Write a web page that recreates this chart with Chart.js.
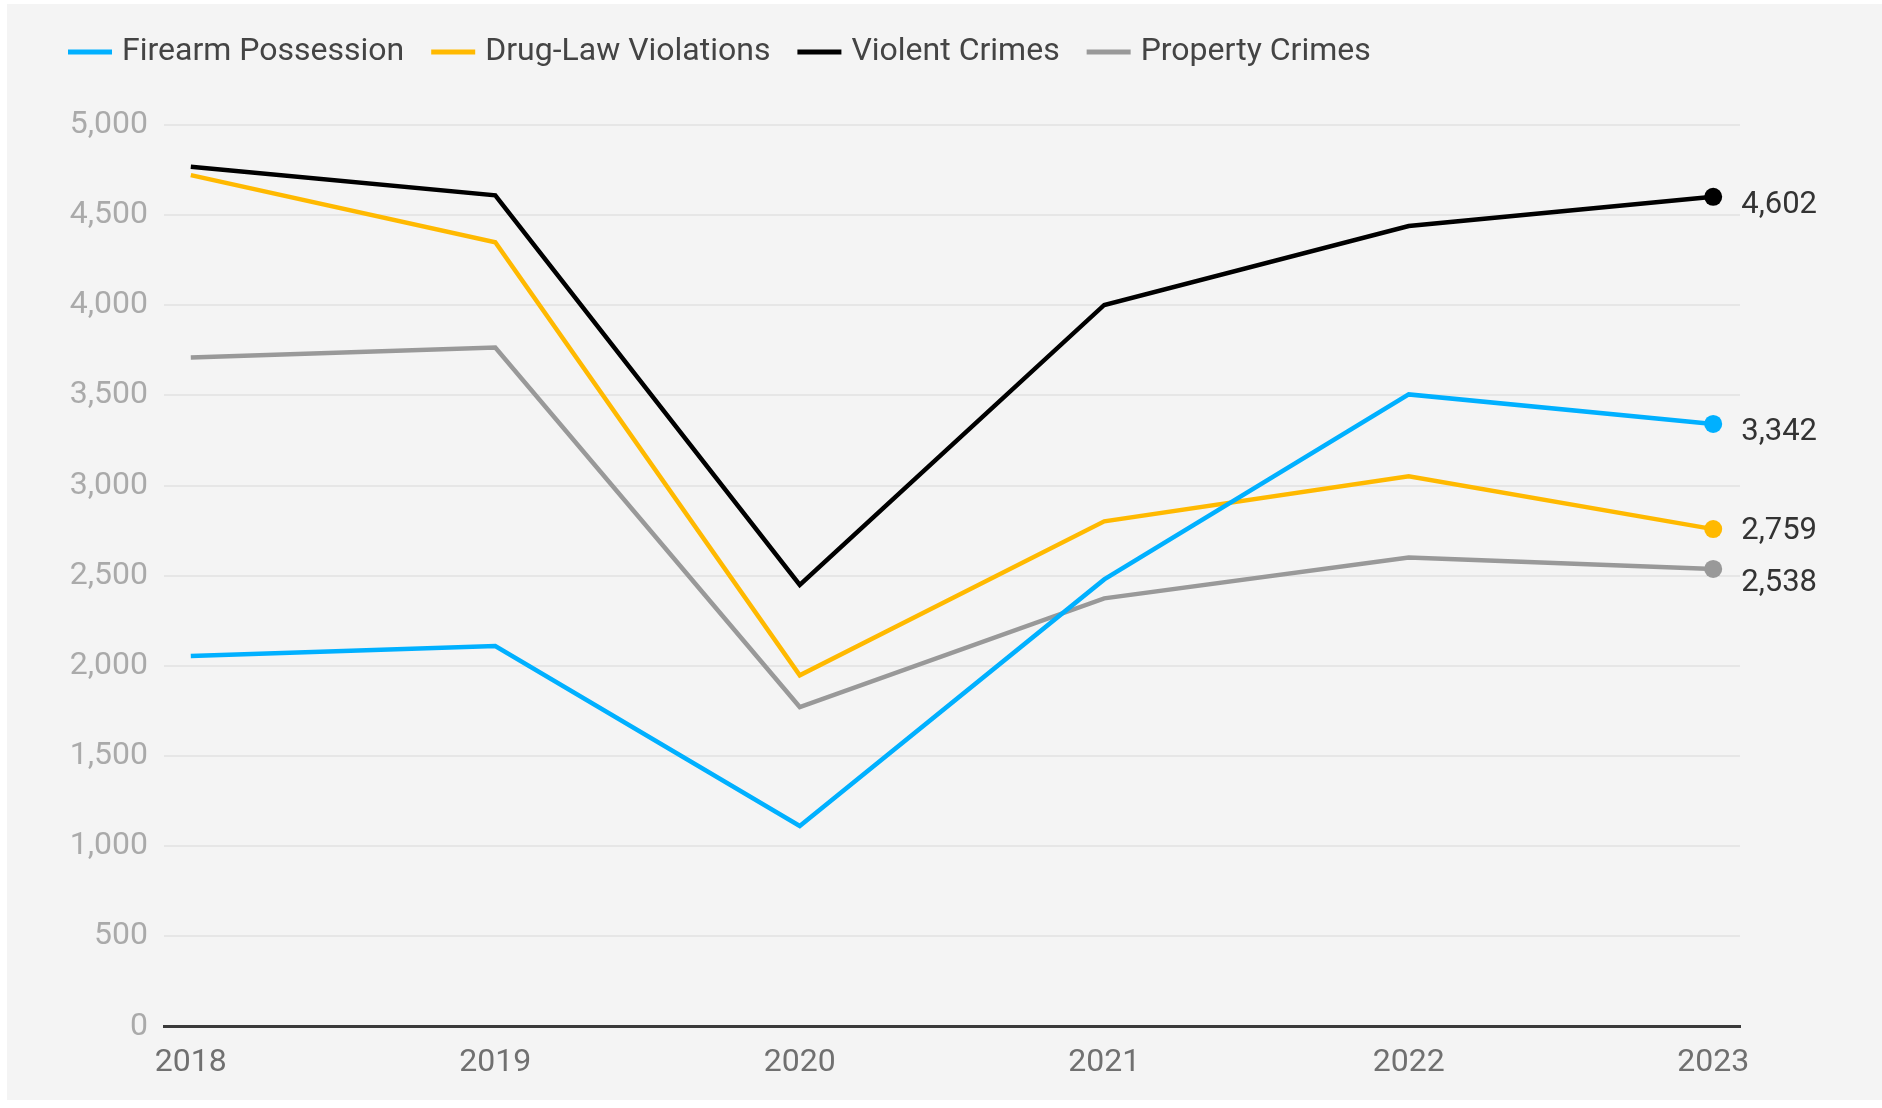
<!DOCTYPE html>
<html>
<head>
<meta charset="utf-8">
<script src="https://cdn.jsdelivr.net/npm/chart.js@4"></script>
<style>
  body { margin: 0; background: #fff; }
  #wrap { position: absolute; left: 7px; top: 4px; width: 1875px; height: 1096px; background: #f4f4f4; }
</style>
</head>
<body>
<div id="wrap"><canvas id="chart" width="1875" height="1096"></canvas></div>
<script>
const years = [2018, 2019, 2020, 2021, 2022, 2023];
const firearm = [2055, 2110, 1113, 2480, 3506, 3342];
const drugLaw = [4722, 4350, 1948, 2802, 3052, 2759];
const violent = [4768, 4610, 2449, 4002, 4440, 4602];
const property = [3710, 3766, 1772, 2375, 2601, 2538];
const yTicks = [0, 500, 1000, 1500, 2000, 2500, 3000, 3500, 4000, 4500, 5000];

const font = 'Roboto';

function series(label, values, color) {
  return {
    label: label,
    data: years.map((yr, i) => ({ x: yr, y: values[i] })),
    borderColor: color,
    backgroundColor: color,
    borderWidth: 4.5,
    tension: 0,
    pointRadius: ctx => ctx.dataIndex === values.length - 1 ? 9 : 0,
    pointBorderWidth: 0,
    pointBackgroundColor: color
  };
}

// make room between legend and plot
const legendGap = {
  id: 'legendGap',
  beforeInit(chart) {
    const fit = chart.legend.fit;
    chart.legend.fit = function () {
      fit.call(this);
      this.height += 47;
    };
  }
};

// short line markers in the legend (library box is left transparent)
const legendMarks = {
  id: 'legendMarks',
  afterDraw(chart) {
    const ctx = chart.ctx;
    const boxes = chart.legend.legendHitBoxes || [];
    ctx.save();
    boxes.forEach((hb, i) => {
      ctx.fillStyle = chart.data.datasets[i].borderColor;
      ctx.fillRect(hb.left, hb.top + hb.height / 2 - 2.5, 44, 5);
    });
    ctx.restore();
  }
};

// value labels next to the last point of each line
const endLabels = {
  id: 'endLabels',
  afterDatasetsDraw(chart) {
    const ctx = chart.ctx;
    const items = chart.data.datasets.map((ds, i) => {
      const meta = chart.getDatasetMeta(i);
      const pt = meta.data[meta.data.length - 1];
      const v = ds.data[ds.data.length - 1].y;
      return { x: pt.x + 28, y: pt.y + 8, text: v.toLocaleString('en-US') };
    }).sort((a, b) => a.y - b.y);
    const minGap = 52;
    for (let k = 0; k < 5; k++) {
      for (let i = 1; i < items.length; i++) {
        const d = items[i].y - items[i - 1].y;
        if (d < minGap) {
          const shift = (minGap - d) / 2;
          items[i - 1].y -= shift;
          items[i].y += shift;
        }
      }
    }
    ctx.save();
    ctx.font = '31px ' + font;
    ctx.fillStyle = '#333';
    ctx.textAlign = 'left';
    ctx.textBaseline = 'middle';
    items.forEach(it => ctx.fillText(it.text, it.x, it.y));
    ctx.restore();
  }
};

new Chart(document.getElementById('chart'), {
  type: 'line',
  data: {
    datasets: [
      series('Firearm Possession', firearm, '#00b0ff'),
      series('Drug-Law Violations', drugLaw, '#ffb900'),
      series('Violent Crimes', violent, '#000000'),
      series('Property Crimes', property, '#999999')
    ]
  },
  options: {
    responsive: false,
    animation: false,
    layout: { padding: { left: 34, right: 142, top: 5, bottom: 1 } },
    plugins: {
      tooltip: { enabled: false },
      legend: {
        position: 'top',
        align: 'start',
        labels: {
          boxWidth: 38,
          boxHeight: 5,
          padding: 27,
          color: '#444',
          font: { family: font, size: 32 },
          generateLabels: chart => Chart.defaults.plugins.legend.labels.generateLabels(chart)
            .map(l => Object.assign(l, { lineWidth: 0, fillStyle: 'rgba(0,0,0,0)' }))
        }
      }
    },
    scales: {
      x: {
        type: 'linear',
        min: years[0] - 0.088,
        max: years[years.length - 1] + 0.088,
        afterBuildTicks: axis => { axis.ticks = years.map(v => ({ value: v })); },
        grid: { display: false, drawTicks: false },
        border: { display: true, color: '#3a3a3a', width: 3 },
        ticks: {
          color: '#707070',
          padding: 17,
          maxRotation: 0,
          autoSkip: false,
          font: { family: font, size: 32 },
          callback: v => String(v)
        }
      },
      y: {
        min: 0,
        max: 5000,
        afterBuildTicks: axis => { axis.ticks = yTicks.map(v => ({ value: v })); },
        afterFit: scale => { scale.width = 123; },
        grid: { color: '#e6e6e6', lineWidth: 2, drawTicks: false },
        border: { display: false },
        ticks: {
          color: '#aaa',
          padding: 16,
          font: { family: font, size: 32 },
          callback: v => v.toLocaleString('en-US')
        }
      }
    }
  },
  plugins: [legendGap, legendMarks, endLabels]
});
</script>
</body>
</html>
